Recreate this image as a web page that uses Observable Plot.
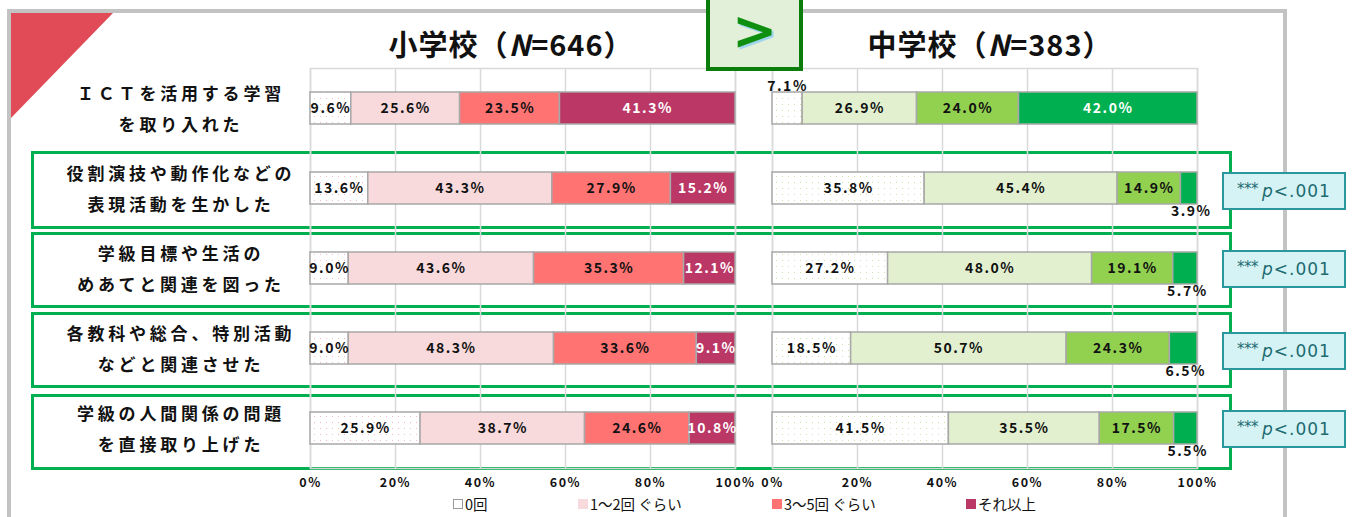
<!DOCTYPE html>
<html><head><meta charset="utf-8">
<script src="https://cdn.jsdelivr.net/npm/d3@7"></script>
<script src="https://cdn.jsdelivr.net/npm/@observablehq/plot@0.6"></script>
<style>
html,body{margin:0;padding:0;background:#fff;}
#root{position:relative;width:1354px;height:517px;overflow:hidden;font-family:"Noto Sans CJK JP","Noto Sans",sans-serif;color:#111;}
.abs{position:absolute;}
.title{font-size:29px;font-weight:bold;white-space:nowrap;transform:translateX(-50%);letter-spacing:1px;}
.lbl{font-size:17px;font-weight:bold;text-align:center;white-space:nowrap;letter-spacing:3.8px;line-height:31px;transform:translateX(-50%);}
.gbox{border:3px solid #00b050;box-sizing:border-box;}
.pbox{background:#d5f3f5;border:2px solid #2a979c;box-sizing:border-box;color:#1d6b70;display:flex;align-items:center;justify-content:center;white-space:nowrap;}
.leg{font-size:14.5px;white-space:nowrap;display:flex;align-items:center;}
.sw{display:inline-block;width:8px;height:8px;margin-right:2px;border:1px solid #a0a0a0;}
svg{overflow:visible;}
</style></head>
<body><div id="root"></div>
<script>
// ---------- data ----------
const items = [
  "ＩＣＴを活用する学習\nを取り入れた",
  "役割演技や動作化などの\n表現活動を生かした",
  "学級目標や生活の\nめあてと関連を図った",
  "各教科や総合、特別活動\nなどと関連させた",
  "学級の人間関係の問題\nを直接取り上げた"
];
const categories = ["0回", "1〜2回 ぐらい", "3〜5回 ぐらい", "それ以上"];
const elemTitle = "小学校", elemN = 646;
const juniorTitle = "中学校", juniorN = 383;
const elemZero   = [9.6, 13.6, 9.0, 9.0, 25.9];
const elemOnce   = [25.6, 43.3, 43.6, 48.3, 38.7];
const elemThree  = [23.5, 27.9, 35.3, 33.6, 24.6];
const elemMore   = [41.3, 15.2, 12.1, 9.1, 10.8];
const junZero    = [7.1, 35.8, 27.2, 18.5, 41.5];
const junOnce    = [26.9, 45.4, 48.0, 50.7, 35.5];
const junThree   = [24.0, 14.9, 19.1, 24.3, 17.5];
const junMore    = [42.0, 3.9, 5.7, 6.5, 5.5];
const pLabels    = [null, "p<.001", "p<.001", "p<.001", "p<.001"];
const xTicks = [0, 20, 40, 60, 80, 100];

const elemColors = ["url(#dotsE)", "#f8d9dc", "#ff7373", "#bb3766"];
const junColors  = ["url(#dotsJ)", "#e2f0d0", "#92d050", "#00b050"];
const elemDot = "#f2bcc4", junDot = "#c9e3a8";

function buildRows(series) {
  const rows = [];
  items.forEach((it, i) => {
    let acc = 0;
    series.forEach((s, k) => {
      const v = s[i];
      rows.push({item: it, idx: i, k, value: v, x1: acc, x2: acc + v, mid: acc + v / 2});
      acc += v;
    });
  });
  return rows;
}

function panel(series, colors, dotColor, pid, darkLast) {
  const rows = buildRows(series);
  const defs = () => {
    const d = d3.create("svg:defs");
    const p = d.append("pattern").attr("id", pid).attr("width", 6).attr("height", 6).attr("patternUnits", "userSpaceOnUse");
    p.append("rect").attr("width", 6).attr("height", 6).attr("fill", "#fff");
    p.append("rect").attr("x", 2).attr("y", 2).attr("width", 1).attr("height", 1).attr("fill", dotColor);
    return d.node();
  };
  const inside = rows.filter(d => !(d.value < 8 && (d.k === 0 || d.k === 3)));
  const above = rows.filter(d => d.value < 8 && d.k === 0);
  const below = rows.filter(d => d.value < 8 && d.k === 3);
  const marks = [defs,
    Plot.frame({stroke: "#d9d9d9", strokeWidth: 1.5}),
    Plot.ruleX(xTicks, {stroke: "#d9d9d9", strokeWidth: 1.5}),
  ];
  categories.forEach((c, k) => {
    marks.push(Plot.barX(rows.filter(d => d.k === k), {x1: "x1", x2: "x2", y: "item", fill: colors[k], stroke: "#a8a8a8", strokeWidth: 1.5}));
  });
  const tf = {fontFamily: "Noto Sans CJK JP", fontWeight: "bold", fontSize: 14};
  marks.push(Plot.text(inside, {x: "mid", y: "item", text: d => d.value.toFixed(1) + "%", fill: d => (d.k === 3 && darkLast) ? "#ffffff" : "#111111", ...tf}));
  marks.push(Plot.text(above, {x: "mid", y: "item", dy: -22, text: d => d.value.toFixed(1) + "%", fill: "#111", ...tf}));
  marks.push(Plot.text(below, {x: "mid", y: "item", dy: 23, dx: 2, text: d => d.value.toFixed(1) + "%", fill: "#111", ...tf}));
  marks.push(Plot.axisX({ticks: xTicks, tickFormat: d => d + "%", tickSize: 0, tickPadding: 10, fontSize: 12.5, fontWeight: "bold", fontFamily: "Noto Sans CJK JP", label: null}));
  const svg = Plot.plot({
    width: 455, height: 433,
    marginLeft: 10, marginRight: 20, marginTop: 8, marginBottom: 25,
    x: {domain: [0, 100], axis: null},
    y: {domain: items, axis: null, paddingInner: 0.6, paddingOuter: 0.3},
    style: {fontFamily: "Noto Sans CJK JP", fontSize: "13px", color: "#111", letterSpacing: "1.5px", background: "transparent"},
    marks
  });
  return svg;
}

const root = document.getElementById("root");
function add(html) { root.insertAdjacentHTML("beforeend", html); }

// frame + corner
add(`<div class="abs" style="left:7px;top:9px;width:1280px;height:520px;border-top:4px solid #c3c3c3;border-left:4px solid #c3c3c3;border-right:4px solid #c3c3c3;box-sizing:border-box;"></div>`);
add(`<svg class="abs" style="left:11px;top:13px" width="110" height="110"><polygon points="0,0 102,0 0,105" fill="#e04b57"/></svg>`);

// green row boxes (rows 2-5)
const boxTops = [null, 151, 232, 312, 394];
items.forEach((it, i) => {
  if (i === 0) return;
  const h = i === 1 ? 78 : 76;
  add(`<div class="abs gbox" style="left:31px;top:${boxTops[i]}px;width:1201px;height:${h}px;"></div>`);
});

// panels
const left = panel([elemZero, elemOnce, elemThree, elemMore], elemColors, elemDot, "dotsE", true);
left.classList.add("abs"); left.style.left = "300px"; left.style.top = "60px";
root.appendChild(left);
const right = panel([junZero, junOnce, junThree, junMore], junColors, junDot, "dotsJ", true);
right.classList.add("abs"); right.style.left = "762px"; right.style.top = "60px";
root.appendChild(right);

// titles
add(`<div class="abs title" style="left:511px;top:22px;">${elemTitle}（<i>N</i>=${elemN}）</div>`);
add(`<div class="abs title" style="left:990px;top:22px;">${juniorTitle}（<i>N</i>=${juniorN}）</div>`);

// ">" box
add(`<div class="abs" style="left:706px;top:-4px;width:97px;height:75px;background:#e2efd9;border:4px solid #0b7d0b;box-sizing:border-box;display:flex;align-items:center;justify-content:center;"><span style="font-family:'DejaVu Sans';font-weight:bold;font-size:54px;color:#0f8f0f;text-shadow:2px 2px 0 #9fd4ef;line-height:1;margin-top:-6px;">&gt;</span></div>`);

// row labels
const rowCenters = [108, 188, 268, 348, 428];
items.forEach((it, i) => {
  const [a, b] = it.split("\n");
  add(`<div class="abs lbl" style="left:181px;top:${rowCenters[i] - 31}px;">${a}<br>${b}</div>`);
});

// p boxes
const pTops = [null, 172, 250, 332, 410];
pLabels.forEach((p, i) => {
  if (!p) return;
  add(`<div class="abs pbox" style="left:1222px;top:${pTops[i]}px;width:124px;height:38px;"><span style="font-size:15px;font-family:'DejaVu Sans';margin-right:4px;letter-spacing:-0.5px;position:relative;top:-2px;">***</span><span style="font-size:17px;font-family:'DejaVu Sans';letter-spacing:1px;"><i>p</i>&lt;.001</span></div>`);
});

// legend
const legX = [453, 578, 772, 966];
const legColors = ["#ffffff", "#f8d9dc", "#ff7373", "#bb3766"];
categories.forEach((c, k) => {
  add(`<div class="abs leg" style="left:${legX[k]}px;top:493px;"><span class="sw" style="background:${legColors[k]};border-color:${k === 0 ? '#999' : legColors[k]}"></span>${c}</div>`);
});
</script></body></html>
